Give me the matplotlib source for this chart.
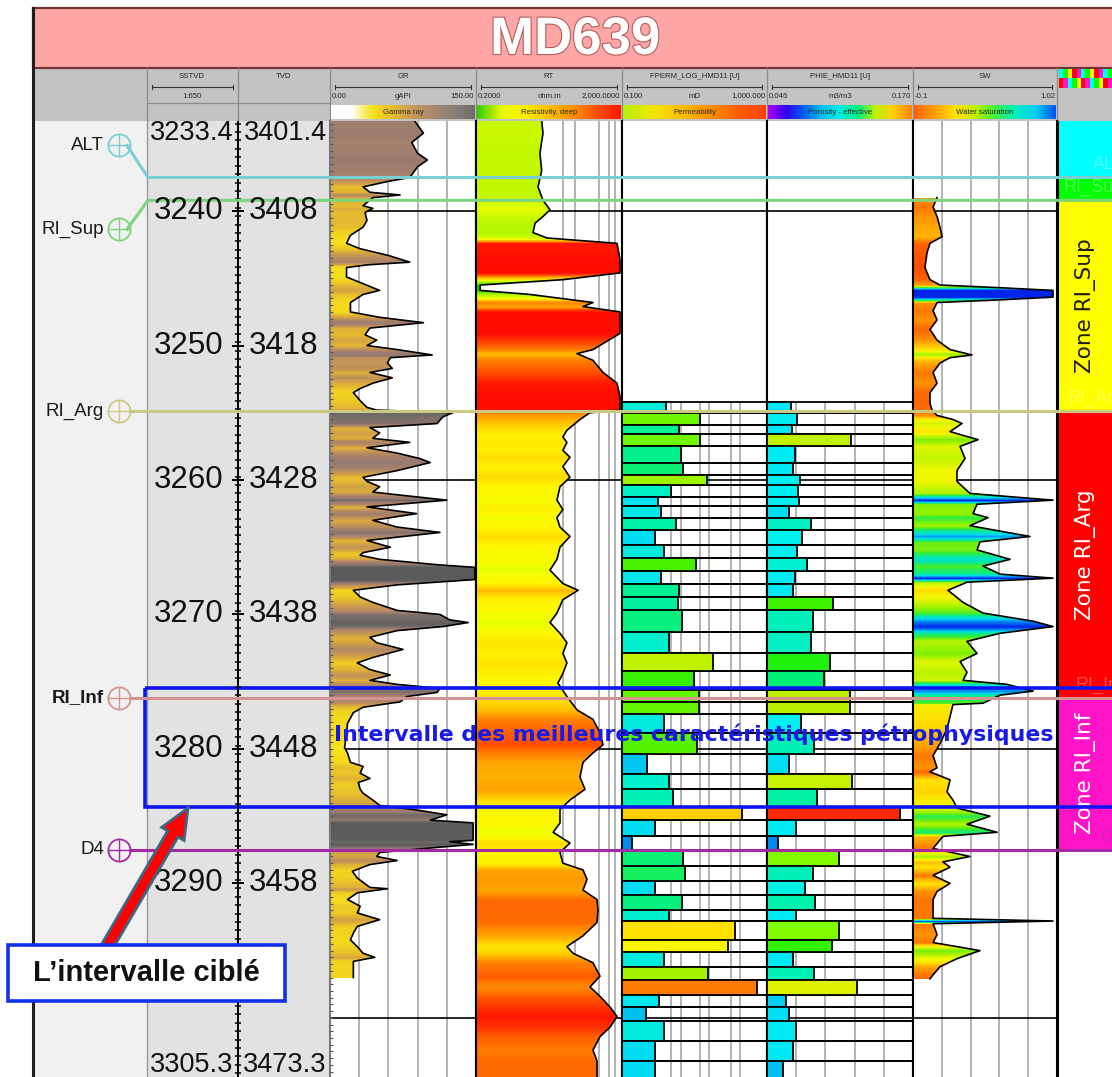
import numpy as np
import matplotlib
matplotlib.use("Agg")
import matplotlib.pyplot as plt
import matplotlib.patheffects as pe
from matplotlib.colors import LinearSegmentedColormap, Normalize, LogNorm
from matplotlib.patches import Rectangle, Polygon, FancyArrow

W, H = 1112, 1077
TRACK_TOP, TRACK_BOT = 121, 1077          # pixel rows of the log tracks
D_TOP, D_BOT = 3233.3, 3304.4             # SSTVD (m) at those rows
PX_PER_M = (TRACK_BOT - TRACK_TOP) / (D_BOT - D_TOP)
TVD_SHIFT = 168.0

NARROW = ["Liberation Sans Narrow", "Liberation Sans", "DejaVu Sans"]
ARIAL = ["Liberation Sans", "DejaVu Sans"]

# ---------------- well data ----------------
top_names = ["ALT", "RI_Sup", "RI_Arg", "RI_Inf", "D4"]
top_depth = [3237.5, 3239.2, 3254.9, 3276.2, 3287.5]
top_color = ["#7ACFD3", "#7DD47D", "#C9C984", "#D39393", "#A42AA4"]
top_label_shift_px = [-32, 29, 0, 0, 0]

zone_fill = ["#00FFFF", "#00FF00", "#FFFF00", "#FF0000", "#FF14C8"]
zone_label = ["", "", "Zone RI_Sup", "Zone RI_Arg", "Zone RI_Inf"]
zone_text_color = ["k", "k", "#1E1E1E", "white", "white"]

sstvd_marks = [3240, 3250, 3260, 3270, 3280, 3290]
sstvd_range = [3233.4, 3305.3]
grid_depths = [3240, 3260, 3280, 3300]
best_top, best_base = 3275.5, 3284.3

gr_depth = [3233.3, 3234.2, 3234.9, 3235.7, 3236.2, 3236.7, 3237.2, 3237.5, 3237.8, 3238.2,
            3238.6, 3238.8, 3239.0, 3239.6, 3239.8, 3240.1, 3240.7, 3241.2, 3241.8, 3242.4,
            3242.8, 3243.3, 3243.8, 3244.0, 3244.2, 3244.9, 3245.4, 3245.9, 3246.2, 3246.8,
            3247.5, 3247.9, 3248.3, 3248.7, 3249.2, 3249.6, 3250.0, 3250.3, 3250.7, 3250.9,
            3251.3, 3251.7, 3252.0, 3252.4, 3252.8, 3253.2, 3253.5, 3254.1, 3254.6, 3254.8,
            3255.0, 3255.3, 3255.8, 3256.1, 3256.5, 3256.9, 3257.2, 3257.6, 3258.0, 3258.4,
            3258.7, 3259.3, 3259.8, 3260.1, 3260.5, 3260.9, 3261.5, 3262.0, 3262.5, 3263.0,
            3263.5, 3263.9, 3264.5, 3265.0, 3265.4, 3265.6, 3265.9, 3266.3, 3266.5, 3267.4,
            3267.8, 3268.2, 3268.7, 3269.1, 3269.7, 3270.0, 3270.4, 3270.6, 3270.9, 3271.2,
            3271.7, 3272.1, 3272.6, 3273.2, 3273.6, 3274.1, 3274.5, 3274.9, 3275.2, 3275.5,
            3275.8, 3276.1, 3276.5, 3276.9, 3277.3, 3278.1, 3278.8, 3279.9, 3280.3, 3281.0,
            3281.3, 3281.8, 3282.2, 3282.5, 3283.0, 3283.3, 3283.8, 3284.2, 3284.5, 3284.9,
            3285.3, 3285.5, 3286.8, 3286.9, 3287.1, 3287.5, 3287.7, 3288.0, 3288.3, 3288.6,
            3289.1, 3289.6, 3290.3, 3290.4, 3290.7, 3291.2, 3291.7, 3292.2, 3292.7, 3293.2,
            3293.7, 3294.2, 3294.7, 3295.2, 3295.5, 3295.8, 3296.2, 3297.0]
gr_api = [87, 96, 84, 90, 100, 90, 85, 82, 59, 34,
          41, 72, 44, 34, 44, 36, 38, 34, 21, 17,
          31, 60, 82, 38, 17, 17, 34, 51, 34, 21,
          21, 51, 96, 41, 36, 48, 38, 69, 105, 62,
          59, 64, 41, 64, 44, 31, 24, 31, 38, 48,
          126, 116, 110, 41, 51, 44, 82, 38, 69, 92,
          103, 69, 34, 38, 51, 44, 120, 38, 89, 44,
          69, 113, 38, 62, 34, 31, 51, 110, 149, 149,
          69, 24, 31, 44, 69, 113, 123, 142, 116, 69,
          41, 48, 75, 44, 28, 41, 62, 41, 69, 113,
          110, 79, 72, 34, 24, 18, 17, 15, 18, 21,
          34, 31, 41, 29, 31, 34, 44, 51, 85, 120,
          103, 147, 147, 123, 147, 82, 51, 48, 69, 41,
          23, 28, 41, 59, 28, 18, 31, 28, 51, 28,
          24, 21, 28, 34, 46, 24, 24, 24]

rt_depth = [3233.3, 3234.2, 3235.7, 3237.0, 3238.2, 3239.2, 3239.9, 3240.4, 3240.9, 3241.6,
            3242.0, 3242.4, 3243.6, 3244.6, 3245.1, 3245.5, 3245.9, 3246.2, 3246.8, 3247.1,
            3247.5, 3249.1, 3250.3, 3250.6, 3251.1, 3252.0, 3252.8, 3253.8, 3254.8, 3255.0,
            3255.5, 3256.3, 3256.8, 3257.2, 3257.8, 3258.3, 3259.0, 3259.8, 3260.5, 3261.5,
            3262.2, 3262.8, 3263.5, 3264.2, 3265.0, 3265.9, 3266.7, 3267.7, 3268.2, 3268.9,
            3269.9, 3270.6, 3271.4, 3272.1, 3272.9, 3273.6, 3274.4, 3275.1, 3276.1, 3277.1,
            3277.8, 3278.8, 3279.7, 3280.3, 3281.0, 3282.1, 3283.0, 3283.8, 3284.5, 3285.5,
            3286.2, 3287.0, 3287.7, 3288.5, 3289.0, 3289.7, 3290.5, 3291.2, 3292.0, 3292.9,
            3293.9, 3294.7, 3295.2, 3295.9, 3296.9, 3297.7, 3298.4, 3299.2, 3299.9, 3300.7,
            3301.4, 3302.4, 3303.2, 3304.6]
rt_ohmm = [12.6, 13.7, 11.3, 12.6, 10.0, 13.7, 21.3, 13.7, 8.3, 7.3,
           17.6, 1460, 1760, 1760, 48, 0.26, 0.26, 6.0, 320, 171,
           1760, 1760, 320, 117, 320, 603, 1460, 1760, 1760, 265,
           141, 62, 48, 62, 48, 75, 48, 75, 40, 33,
           48, 33, 40, 75, 40, 33, 21.3, 48, 125, 48,
           33, 21.3, 40, 62, 48, 62, 48, 35, 62, 117,
           320, 499, 603, 320, 171, 141, 194, 75, 40, 40,
           26, 75, 40, 48, 171, 220, 171, 413, 440, 413,
           171, 62, 91, 320, 499, 265, 499, 938, 1460, 938,
           499, 320, 413, 413]

sw_depth = [3239.0, 3239.7, 3240.4, 3241.2, 3241.9, 3242.4, 3243.1, 3244.2, 3245.1, 3245.5,
            3245.7, 3245.9, 3246.4, 3246.6, 3246.8, 3247.4, 3248.1, 3248.8, 3249.6, 3250.3,
            3250.7, 3250.9, 3251.3, 3252.0, 3252.8, 3253.5, 3254.3, 3254.8, 3255.2, 3255.5,
            3255.8, 3256.4, 3257.0, 3257.5, 3258.4, 3259.3, 3260.1, 3261.0, 3261.5, 3261.8,
            3262.5, 3262.8, 3263.4, 3264.2, 3264.6, 3265.2, 3265.9, 3266.4, 3267.0, 3267.3,
            3267.6, 3268.2, 3269.1, 3269.9, 3270.5, 3270.9, 3271.4, 3272.0, 3272.9, 3273.5,
            3274.3, 3274.9, 3275.2, 3275.7, 3276.0, 3276.6, 3276.7, 3277.6, 3278.5, 3279.6,
            3280.5, 3281.4, 3281.7, 3282.3, 3283.2, 3283.8, 3284.4, 3285.0, 3285.6, 3286.2,
            3286.5, 3287.4, 3288.0, 3288.4, 3288.8, 3289.4, 3290.0, 3290.6, 3291.2, 3291.8,
            3292.6, 3292.8, 3293.0, 3293.8, 3294.4, 3295.0, 3295.6, 3296.2, 3296.8, 3297.1]
sw_frac = [0.087, 0.056, 0.087, 0.110, 0.126, 0.032, 0.009, -0.007, 0.032, 0.110,
           0.577, 0.989, 0.989, 0.577, 0.087, 0.056, 0.087, 0.032, 0.087, 0.188,
           0.359, 0.188, 0.110, 0.056, 0.087, 0.032, 0.032, 0.048, 0.087, 0.211,
           0.281, 0.188, 0.406, 0.266, 0.305, 0.242, 0.242, 0.343, 0.989, 0.398,
           0.367, 0.484, 0.343, 0.810, 0.421, 0.398, 0.655, 0.445, 0.577, 0.989,
           0.320, 0.172, 0.289, 0.445, 0.834, 0.989, 0.577, 0.320, 0.398, 0.266,
           0.320, 0.289, 0.631, 0.834, 0.577, 0.445, 0.211, 0.188, 0.165, 0.110,
           0.056, 0.087, 0.032, 0.188, 0.165, 0.211, 0.242, 0.499, 0.320, 0.554,
           0.133, 0.056, 0.343, 0.133, 0.188, 0.056, 0.188, 0.087, 0.056, 0.056,
           0.056, 0.989, 0.056, 0.087, 0.056, 0.421, 0.242, 0.110, 0.056, 0.032]

# interval (stepped) properties: row boundaries, then one value per row
row_edges = [3254.2, 3255.0, 3255.9, 3256.6, 3257.5, 3258.7, 3259.6, 3260.4, 3261.3, 3261.9,
             3262.8, 3263.7, 3264.8, 3265.8, 3266.8, 3267.7, 3268.7, 3269.7, 3271.3, 3272.9,
             3274.2, 3275.6, 3276.5, 3277.4, 3278.8, 3280.4, 3281.9, 3283.0, 3284.3, 3285.3,
             3286.5, 3287.5, 3288.7, 3289.8, 3290.9, 3292.0, 3292.8, 3294.2, 3295.1, 3296.2,
             3297.2, 3298.3, 3299.2, 3300.2, 3301.7, 3303.2, 3304.6]
perm_md = [1.6, 14.2, 3.7, 14.2, 4.2, 4.8, 22, 2.2, 0.97, 1.2,
           3.1, 0.81, 1.44, 11, 1.2, 3.7, 3.4, 4.5, 2.0, 32,
           9.7, 13.3, 13.3, 1.44, 11.7, 0.49, 2.0, 2.55, 200, 0.81,
           0.19, 4.8, 5.5, 0.81, 4.5, 2.0, 131, 82, 1.44, 23.6,
           520, 1.05, 0.45, 1.44, 0.81, 0.81]
phie_frac = [0.0664, 0.0712, 0.0672, 0.1171, 0.0698, 0.0678, 0.0740, 0.0723, 0.0732, 0.0647,
             0.0834, 0.0755, 0.0712, 0.0800, 0.0698, 0.0681, 0.1020, 0.0851, 0.0834, 0.0995,
             0.0944, 0.1165, 0.1165, 0.0749, 0.0859, 0.0647, 0.1182, 0.0882, 0.1589, 0.0706,
             0.0553, 0.1071, 0.0848, 0.0783, 0.0868, 0.0704, 0.1071, 0.1009, 0.0681, 0.0859,
             0.1222, 0.0619, 0.0647, 0.0704, 0.0681, 0.0596]

# grid values of each track
gr_grid = [30, 60, 90, 120]
rt_grid = [48, 103, 470, 870, 1290]
perm_grid = [2.2, 4.3, 14, 25, 100, 177]
phie_grid = [0.0708, 0.0956, 0.1204, 0.1452]
sw_grid = [0.124, 0.348, 0.572, 0.796]


def ramp(name, stops):
    return LinearSegmentedColormap.from_list(name, stops)


gr_cmap = ramp("gr", [(0, "#FFFFFF"), (0.06, "#FFF8C0"), (0.1, "#F6E21A"), (0.18, "#F0CF22"),
                      (0.28, "#DDAE38"), (0.4, "#C39456"), (0.55, "#A5806C"), (0.68, "#96796E"),
                      (0.8, "#6F6A68"), (1.0, "#5A5A5A")])
rt_cmap = ramp("rt", [(0, "#00CC00"), (0.175, "#70E800"), (0.35, "#A8F200"), (0.445, "#C4F800"),
                      (0.524, "#EEFF00"), (0.588, "#FFF400"), (0.65, "#FFD800"), (0.719, "#FFAE00"),
                      (0.794, "#FF8400"), (0.869, "#FF5000"), (0.945, "#FF2200"), (1.0, "#FF0800")])
sw_cmap = ramp("sw", [(0, "#FF2000"), (0.089, "#FF5000"), (0.143, "#FF7C00"), (0.196, "#FFB000"),
                      (0.25, "#FFE000"), (0.304, "#F0F800"), (0.357, "#C4F400"), (0.429, "#8CF000"),
                      (0.518, "#30EC40"), (0.625, "#00E8B0"), (0.732, "#00D8F0"), (0.848, "#0080F0"),
                      (1.0, "#0010E8")])
perm_cmap = ramp("perm", [(0, "#0050F0"), (0.07, "#0090F0"), (0.175, "#00C8F0"), (0.25, "#00E6F2"),
                          (0.325, "#00F0CC"), (0.4, "#00F090"), (0.5, "#38F000"), (0.545, "#7CF800"),
                          (0.62, "#BCF000"), (0.7, "#E8F800"), (0.74, "#FFF200"), (0.825, "#FFD000"),
                          (0.925, "#FF8000"), (1.0, "#FF2000")])
phie_cmap = ramp("phie", [(0, "#A000F0"), (0.032, "#5000F0"), (0.073, "#0088F0"), (0.113, "#00C4F0"),
                          (0.161, "#00E6F4"), (0.234, "#00F2F0"), (0.274, "#00F0D4"), (0.323, "#00F0B4"),
                          (0.395, "#00F070"), (0.435, "#24F000"), (0.492, "#80FC00"), (0.573, "#BEF000"),
                          (0.613, "#DCF200"), (0.718, "#FFD000"), (0.839, "#FF7000"), (0.919, "#FF2400"),
                          (1.0, "#FF0000")])

fig = plt.figure(figsize=(W / 100, H / 100), dpi=100)


def px_axes(x0, y0, x1, y1, z):
    return fig.add_axes([x0 / W, 1 - y1 / H, (x1 - x0) / W, (y1 - y0) / H], zorder=z)


def depth_at(py):
    return D_TOP + (py - TRACK_TOP) / PX_PER_M


# ---------------- page frame, title and header ----------------
bg = px_axes(0, 0, W, H, 0)
bg.set_xlim(0, W)
bg.set_ylim(H, 0)
bg.axis("off")
bg.add_patch(Rectangle((33, 121), 114, H, fc="#F1F1F1", ec="none"))
bg.add_patch(Rectangle((147, 121), 183, H, fc="#E2E2E2", ec="none"))
bg.add_patch(Rectangle((33, 68), W, 53, fc="#C3C3C3", ec="none"))
bg.add_patch(Rectangle((33, 8), W, 60, fc="#FFA7A7", ec="#703434", lw=1.6))
bg.plot([33, 33], [8, H], color="#1E1E1E", lw=2.2)
bg.plot([147, 147], [121, H], color="#9A9A9A", lw=1.0)
bg.text(575, 40, "MD639", ha="center", va="center", fontsize=38, fontweight="bold",
        color="white", family=ARIAL,
        path_effects=[pe.withStroke(linewidth=1.6, foreground="#B45C5C")])

for xs in [147, 238, 330, 476, 622, 767, 913, 1057]:
    bg.plot([xs, xs], [68, 120], color="#8A8A8A", lw=0.9)
bg.plot([147, 330], [103, 103], color="#8A8A8A", lw=0.9)


def htxt(x, y, s, ha="center"):
    bg.text(x, y, s, ha=ha, va="center", fontsize=5.6, color="#262626", family=NARROW)


def name_rule(x0, x1):
    bg.plot([x0 + 5, x1 - 5], [87, 87], color="#333333", lw=0.8)
    bg.plot([x0 + 5, x0 + 5], [85, 89], color="#333333", lw=0.8)
    bg.plot([x1 - 5, x1 - 5], [85, 89], color="#333333", lw=0.8)


htxt(192, 77, "SSTVD")
name_rule(147, 238)
htxt(192, 96, "1:650")
htxt(284, 77, "TVD")

headers = [
    (330, 476, "GR", "0.00", "gAPI", "150.00", "Gamma ray",
     ["#FFFFFF", "#FFFFFF", "#F4E21A", "#E6BC30", "#C8985A", "#A88870", "#8C7E78", "#6E6E6E"]),
    (476, 622, "RT", "0.2000", "ohm.m", "2,000.0000", "Resistivity, deep",
     ["#30D000", "#E8F800", "#FFF000", "#FFC000", "#FF9000", "#FF5000", "#FF1800"]),
    (622, 767, "FPERM_LOG_HMD11 [U]", "0.100", "mD", "1,000.000", "Permeability",
     ["#B8F000", "#F0E800", "#FFC000", "#FF9000", "#FF6000", "#FF4000"]),
    (767, 913, "PHIE_HMD11 [U]", "0.046", "m3/m3", "0.170", "Porosity - effective",
     ["#B000F0", "#3000F0", "#0060F0", "#00C0F0", "#00F0E0", "#00F080", "#C0F000", "#FFD000", "#FF8000"]),
    (913, 1057, "SW", "-0.1", "", "1.02", "Water saturation",
     ["#FF6000", "#FFA000", "#FFE000", "#C0F000", "#40F040", "#00F0C0", "#00D0F0", "#0050F0"]),
]
for x0, x1, name, lo, unit, hi, bar_label, bar_colors in headers:
    cx = (x0 + x1) / 2
    htxt(cx, 77, name)
    name_rule(x0, x1)
    htxt(x0 + 2, 96, lo, ha="left")
    htxt(cx, 96, unit)
    htxt(x1 - 2, 96, hi, ha="right")
    cax = px_axes(x0 + 1, 105, x1 - 1, 119, 1)
    cax.imshow(np.linspace(0, 1, 256)[None, :], cmap=ramp(name + "_bar", bar_colors),
               aspect="auto", extent=[0, 1, 0, 1])
    cax.axis("off")
    cax.text(0.5, 0.45, bar_label, transform=cax.transAxes, ha="center", va="center",
             fontsize=5.6, color="#2A2A2A", family=NARROW)

# small zone-colour swatch in the header of the zone column
sw_ax = px_axes(1059, 69, 1112, 88, 1)
swatch = np.array([[0, 1, 2, 3, 4, 0, 1, 2, 3, 4, 0, 1],
                   [3, 4, 0, 1, 2, 3, 4, 0, 1, 2, 3, 4]])
sw_ax.imshow(swatch, cmap=LinearSegmentedColormap.from_list("zs", zone_fill, N=5),
             aspect="auto", interpolation="nearest")
sw_ax.axis("off")


# ---------------- log tracks ----------------
def track(x0, x1, xlim, log=False, left_color="black"):
    ax = px_axes(x0, TRACK_TOP, x1, TRACK_BOT, 2)
    if log:
        ax.set_xscale("log")
    ax.set_xlim(*xlim)
    ax.set_ylim(D_BOT, D_TOP)
    ax.tick_params(which="both", bottom=False, left=False, labelbottom=False, labelleft=False)
    ax.spines["top"].set_visible(False)
    ax.spines["bottom"].set_visible(False)
    ax.spines["left"].set_color(left_color)
    ax.spines["right"].set_color("black")
    ax.spines["left"].set_linewidth(1.5)
    ax.spines["right"].set_linewidth(1.5)
    ax.set_facecolor("white")
    return ax


def grid_lines(ax, xs, d0=D_TOP, d1=D_BOT):
    ax.vlines(xs, d0, d1, color="#B2B2B2", lw=1.4, zorder=1)
    for d in grid_depths:
        ax.axhline(d, color="black", lw=1.2, zorder=1.2)


def shaded_curve(ax, depth, values, cmap, norm, x_left, x_right, log=False):
    depth = np.asarray(depth, float)
    values = np.asarray(values, float)
    fine = np.linspace(depth[0], depth[-1], 1600)
    if log:
        shade = 10 ** np.interp(fine, depth, np.log10(values))
    else:
        shade = np.interp(fine, depth, values)
    mesh = ax.pcolormesh([x_left, x_right], fine, shade[:-1, None], cmap=cmap, norm=norm,
                         shading="flat", antialiased=False, zorder=2)
    verts = np.column_stack([np.r_[x_left, values, x_left], np.r_[depth[0], depth, depth[-1]]])
    outline = Polygon(verts, closed=True, fc="none", ec="none", transform=ax.transData)
    ax.add_patch(outline)
    mesh.set_clip_path(outline)
    ax.plot(values, depth, color="black", lw=1.2, zorder=3)


def interval_bars(ax, values, cmap, norm, x_left, x_right):
    edges = np.asarray(row_edges)
    centers = (edges[:-1] + edges[1:]) / 2
    heights = np.diff(edges)
    ax.barh(centers, x_right - x_left, left=x_left, height=heights, facecolor="none",
            edgecolor="black", lw=1.3, zorder=3)
    vals = np.asarray(values)
    ax.barh(centers, vals - x_left, left=x_left, height=heights, color=cmap(norm(vals)),
            edgecolor="black", lw=1.3, zorder=3)


ax_gr = track(330, 476, (0, 150), left_color="#7A7A7A")
grid_lines(ax_gr, gr_grid)
shaded_curve(ax_gr, gr_depth, gr_api, gr_cmap, Normalize(0, 150), 0, 150)
ax_gr.set_xlim(0, 150)
ax_gr.set_ylim(D_BOT, D_TOP)

ax_rt = track(476, 622, (0.2, 2000), log=True)
grid_lines(ax_rt, rt_grid)
shaded_curve(ax_rt, rt_depth, rt_ohmm, rt_cmap, LogNorm(0.2, 2000), 0.2, 2000, log=True)
ax_rt.set_xlim(0.2, 2000)
ax_rt.set_ylim(D_BOT, D_TOP)

ax_pm = track(622, 767, (0.1, 1000), log=True)
grid_lines(ax_pm, perm_grid, d0=row_edges[0])
interval_bars(ax_pm, perm_md, perm_cmap, LogNorm(0.1, 1000), 0.1, 1000)
ax_pm.set_xlim(0.1, 1000)
ax_pm.set_ylim(D_BOT, D_TOP)

ax_ph = track(767, 913, (0.046, 0.170))
grid_lines(ax_ph, phie_grid, d0=row_edges[0])
interval_bars(ax_ph, phie_frac, phie_cmap, Normalize(0.046, 0.170), 0.046, 0.170)
ax_ph.set_xlim(0.046, 0.170)
ax_ph.set_ylim(D_BOT, D_TOP)

ax_sw = track(913, 1057, (-0.1, 1.02))
grid_lines(ax_sw, sw_grid)
shaded_curve(ax_sw, sw_depth, sw_frac, sw_cmap, Normalize(-0.1, 1.02), -0.1, 1.02)
ax_sw.set_xlim(-0.1, 1.02)
ax_sw.set_ylim(D_BOT, D_TOP)

# zone column
ax_z = px_axes(1057, TRACK_TOP, 1135, TRACK_BOT, 2)
ax_z.set_xlim(1057, 1135)
ax_z.set_ylim(D_BOT, D_TOP)
ax_z.axis("off")
bounds = [D_TOP] + top_depth
for i in range(len(zone_fill)):
    ax_z.axhspan(bounds[i], bounds[i + 1], color=zone_fill[i], zorder=1)
    if zone_label[i]:
        ax_z.text(1086, (bounds[i] + bounds[i + 1]) / 2, zone_label[i], rotation=90,
                  ha="center", va="center", fontsize=15.5, color=zone_text_color[i],
                  family="DejaVu Sans", zorder=3)
for name, d in zip(top_names, top_depth):
    faint = "#7A3C9A" if name == "D4" else "white"
    ax_z.text(1124, d - 0.3, name, ha="right", va="bottom", fontsize=13, color=faint,
              alpha=0.3, family=NARROW, zorder=3, clip_on=True)
ax_z.plot([1057.5, 1057.5], [D_TOP, D_BOT], color="black", lw=1.5, zorder=4)

# ---------------- depth column, tops and annotations ----------------
ov = px_axes(0, TRACK_TOP, W, TRACK_BOT, 5)
ov.set_xlim(0, W)
ov.set_ylim(D_BOT, D_TOP)
ov.axis("off")

ov.plot([238, 238], [D_TOP, D_BOT], color="black", lw=1.4)
tick_d = np.arange(3233.5, D_BOT, 0.625)
ov.hlines(tick_d, 235, 241, color="black", lw=1.1)
ov.hlines(sstvd_marks, 232, 244, color="black", lw=1.4)
ov.hlines(np.arange(3233.5, D_BOT, 0.5), 330, 333, color="#555555", lw=0.8)
for d in sstvd_marks:
    ov.text(189, d, f"{d}", ha="center", va="center", fontsize=22.5, family=NARROW, color="#111111")
    ov.text(284, d, f"{d + TVD_SHIFT:.0f}", ha="center", va="center", fontsize=22.5,
            family=NARROW, color="#111111")

for sst, ypx in zip(sstvd_range, [120, 1052]):
    bg.text(192, ypx, f"{sst:.1f}", ha="center", va="top", fontsize=19.5, family=NARROW,
            color="#111111")
    bg.text(285, ypx, f"{sst + TVD_SHIFT:.1f}", ha="center", va="top", fontsize=19.5,
            family=NARROW, color="#111111")

for name, d, col, shift in zip(top_names, top_depth, top_color, top_label_shift_px):
    dl = d + shift / PX_PER_M
    if shift:
        ov.plot([127, 148, W], [dl, d, d], color=col, lw=2.2, solid_joinstyle="round")
    else:
        ov.plot([130, W], [d, d], color=col, lw=2.2)
    ov.plot(119, dl, marker="o", ms=16, mfc="none", mec=col, mew=1.3)
    ov.plot(119, dl, marker="+", ms=16, mec=col, mew=1.0)
    ov.text(104, dl, name, ha="right", va="center", fontsize=13.5, family=NARROW,
            fontweight="bold" if name == "RI_Inf" else "normal", color="#1A1A1A")

ov.add_patch(Rectangle((145, best_top), 1000, best_base - best_top, fill=False,
                       ec="#0B16F2", lw=2.6, clip_on=False))
ov.text(694, depth_at(734), "Intervalle des meilleures caractéristiques pétrophysiques",
        ha="center", va="center", fontsize=15.8, fontweight="bold", color="#1A1AE6",
        family="DejaVu Sans")

fg = px_axes(0, 0, W, H, 7)
fg.set_xlim(0, W)
fg.set_ylim(H, 0)
fg.axis("off")
fg.add_patch(FancyArrow(104, 952, 84, -144, width=12, head_width=26, head_length=30,
                        length_includes_head=True, fc="#FF0000", ec="#3F6582", lw=2))
fg.add_patch(Rectangle((8, 945), 277, 56, fc="white", ec="#1230E8", lw=2.6))
fg.text(146, 973, "L\u2019intervalle ciblé", ha="center", va="center", fontsize=21,
        fontweight="bold", family=ARIAL, color="#111111")

fig.savefig("out.png", dpi=100)
